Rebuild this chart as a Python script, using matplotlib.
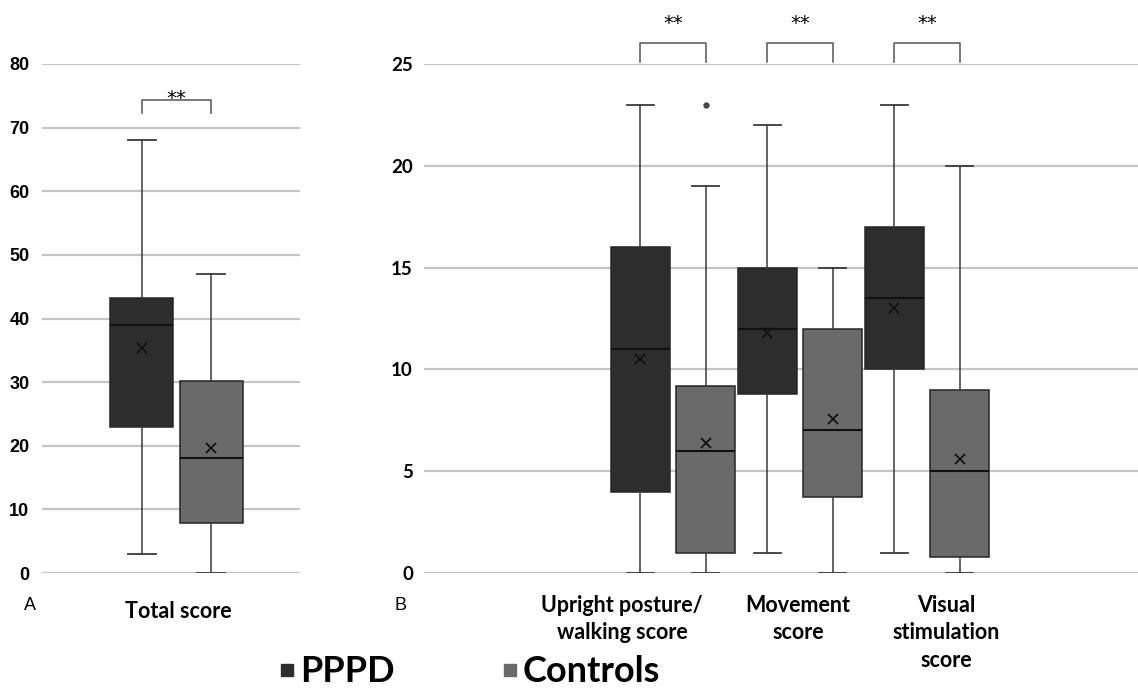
import matplotlib
matplotlib.use("Agg")
import matplotlib.pyplot as plt
from matplotlib.lines import Line2D
import numpy as np

# ── Data ─────────────────────────────────────────────────────────────────────

GROUPS = ["PPPD", "Controls"]

# panel A: total score
total_label = "Total score"
total_stats = {
    "PPPD":     dict(whislo=3, q1=23, med=39, q3=43.3, whishi=68, mean=35.4, fliers=[]),
    "Controls": dict(whislo=0, q1=7.8, med=18, q3=30.2, whishi=47, mean=19.6, fliers=[]),
}

# panel B: sub-scores
sub_labels = ["Upright posture/\nwalking score", "Movement\nscore", "Visual\nstimulation\nscore"]
pppd_whislo   = [0, 1, 1]
pppd_q1       = [4, 8.8, 10]
pppd_med      = [11, 12, 13.5]
pppd_q3       = [16, 15, 17]
pppd_whishi   = [23, 22, 23]
pppd_mean     = [10.5, 11.8, 13.0]
pppd_fliers   = [[], [], []]

ctrl_whislo   = [0, 0, 0]
ctrl_q1       = [1, 3.75, 0.8]
ctrl_med      = [6, 7, 5]
ctrl_q3       = [9.2, 12, 9]
ctrl_whishi   = [19, 15, 20]
ctrl_mean     = [6.4, 7.55, 5.6]
ctrl_fliers   = [[23], [], []]

SIG = "**"

# ── Style ────────────────────────────────────────────────────────────────────

COLORS = {"PPPD": "#2d2d2d", "Controls": "#6a6a6a"}
EDGE = "#262626"
GRID = "#c4c4c4"
FONT = "Lato"

W, H = 1138, 689
fig = plt.figure(figsize=(W / 100, H / 100), dpi=100)


def px_axes(x0, x1, y_top, y_bot):
    return fig.add_axes([x0 / W, 1 - y_bot / H, (x1 - x0) / W, (y_bot - y_top) / H])


def style_axis(ax, ymax, step, fontfam, pad, size):
    ax.set_ylim(0, ymax)
    ax.set_yticks(np.arange(0, ymax + 0.1, step))
    ax.yaxis.grid(True, color=GRID, linewidth=1.6)
    ax.set_axisbelow(True)
    for s in ax.spines.values():
        s.set_visible(False)
    ax.tick_params(axis="y", length=0, pad=pad)
    ax.tick_params(axis="x", length=0)
    for lbl in ax.get_yticklabels():
        lbl.set_fontfamily(fontfam)
        lbl.set_fontweight("bold")
        lbl.set_fontsize(size)


def draw_boxes(ax, stats_list, positions, widths, colors):
    bp = ax.bxp(stats_list, positions=positions, widths=widths,
                patch_artist=True, showmeans=True, showfliers=True,
                whiskerprops=dict(color="#3a3a3a", linewidth=1.1),
                capprops=dict(color="#3a3a3a", linewidth=1.3),
                medianprops=dict(color="#111111", linewidth=1.5),
                boxprops=dict(edgecolor=EDGE, linewidth=1.1),
                meanprops=dict(marker="x", markeredgecolor="#111111",
                               markersize=7, markeredgewidth=1.3),
                flierprops=dict(marker="o", markersize=3.5,
                                markerfacecolor="#444444",
                                markeredgecolor="#444444"),
                capwidths=[w * 0.45 for w in widths])
    for patch, c in zip(bp["boxes"], colors):
        patch.set_facecolor(c)
    ax.set_xticks([])
    return bp


def bracket(ax, x0, x1, y_top, y_leg, y_text):
    ax.plot([x0, x0, x1, x1], [y_leg, y_top, y_top, y_leg],
            color="#555555", linewidth=1.1, clip_on=False)
    ax.text((x0 + x1) / 2, y_text, SIG, ha="center", va="center",
            fontsize=14, family="DejaVu Sans", clip_on=False)


# ── Panel A ──────────────────────────────────────────────────────────────────

axA = px_axes(42, 300, 64, 573)
style_axis(axA, 80, 10, "Liberation Sans", 9, 13)
a_pos = [-0.548, 0.548]
draw_boxes(axA, [total_stats[g] for g in GROUPS], a_pos, [1.0, 1.0],
           [COLORS[g] for g in GROUPS])
# one x unit = one box width (63 px), group centre at 0
axA.set_xlim((42 - 176.5) / 63, (300 - 176.5) / 63)
bracket(axA, a_pos[0], a_pos[1], 74.3, 72.3, 74.6)

# ── Panel B ──────────────────────────────────────────────────────────────────

axB = px_axes(424, 1138, 64, 573)
style_axis(axB, 25, 5, FONT, 8, 13.5)

off, bw = 0.256, 0.465
cats = np.arange(len(sub_labels))
stats, pos, cols = [], [], []
for i in cats:
    stats.append(dict(whislo=pppd_whislo[i], q1=pppd_q1[i], med=pppd_med[i],
                      q3=pppd_q3[i], whishi=pppd_whishi[i], mean=pppd_mean[i],
                      fliers=pppd_fliers[i]))
    pos.append(i - off)
    cols.append(COLORS["PPPD"])
    stats.append(dict(whislo=ctrl_whislo[i], q1=ctrl_q1[i], med=ctrl_med[i],
                      q3=ctrl_q3[i], whishi=ctrl_whishi[i], mean=ctrl_mean[i],
                      fliers=ctrl_fliers[i]))
    pos.append(i + off)
    cols.append(COLORS["Controls"])
draw_boxes(axB, stats, pos, [bw] * len(pos), cols)
# one x unit = one category (127 px)
axB.set_xlim((424 - 673) / 127, (1138 - 673) / 127)

for i in cats:
    bracket(axB, i - off, i + off, 26.05, 25.1, 27.0)

# ── Labels ───────────────────────────────────────────────────────────────────

fig.text(178 / W, 1 - 612 / H, total_label, ha="center", va="center",
         fontsize=15.5, fontweight="bold", family=FONT)
label_x_px = [622, 798, 946]
for lab, x_px in zip(sub_labels, label_x_px):
    fig.text(x_px / W, 1 - 595 / H, lab, ha="center", va="top",
             fontsize=15.5, fontweight="bold", family=FONT, linespacing=1.38)

fig.text(30 / W, 1 - 606 / H, "A", ha="center", va="center",
         fontsize=13, family="Liberation Sans")
fig.text(400 / W, 1 - 606 / H, "B", ha="center", va="center",
         fontsize=13, family="Liberation Sans")

handles = [Line2D([0], [0], marker="s", linestyle="none", markersize=8,
                  markerfacecolor=COLORS[g], markeredgecolor=COLORS[g], label=g)
           for g in GROUPS]
fig.legend(handles=handles, ncol=2, loc="center", frameon=False,
           bbox_to_anchor=(468 / W, 1 - 672 / H),
           prop=dict(family=FONT, weight="bold", size=26),
           handletextpad=0.05, columnspacing=2.9, handlelength=0.6)

fig.savefig("out.png", dpi=100)
plt.close()
